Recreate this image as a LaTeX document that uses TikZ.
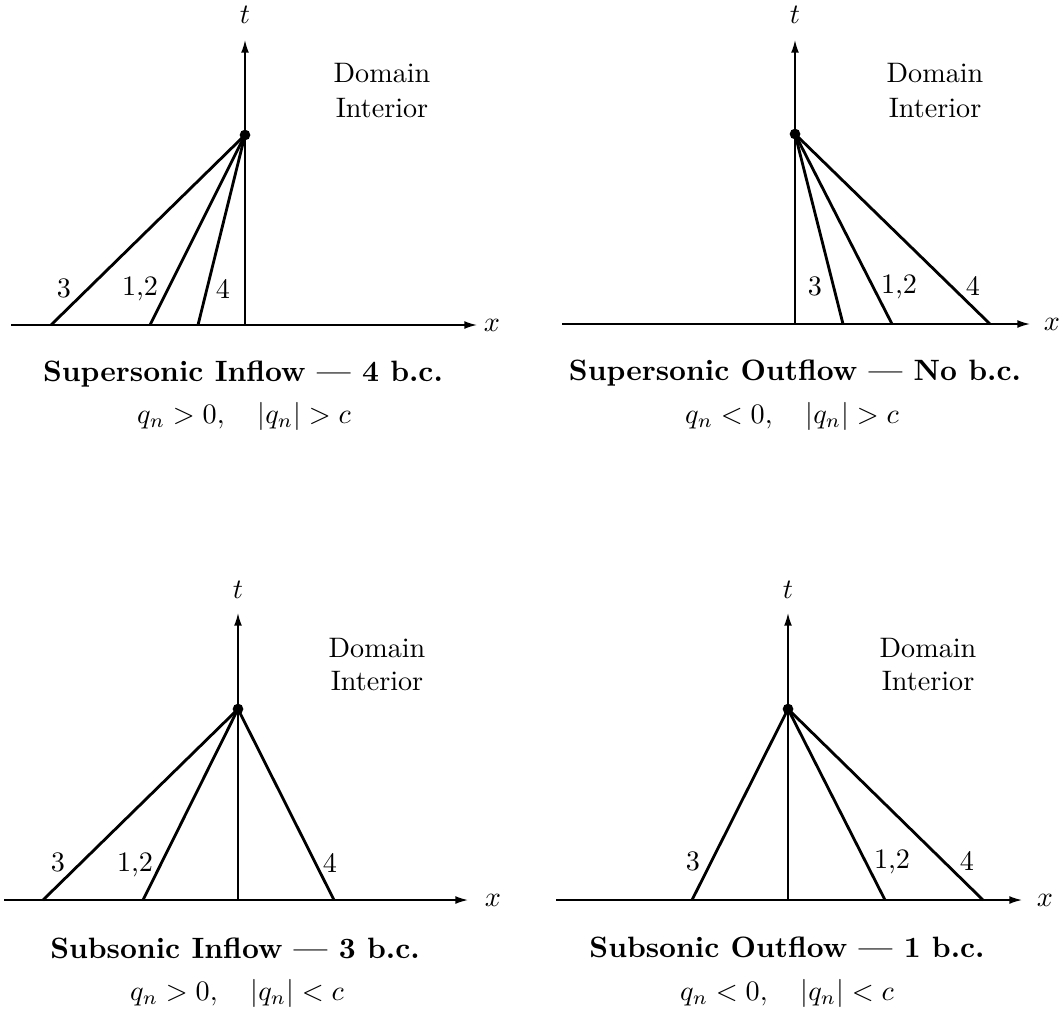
\documentclass[tikz,border=0pt]{standalone}
\usetikzlibrary{arrows.meta}
\begin{document}
\begin{tikzpicture}[x=0.355pt,y=-0.355pt,
  axisline/.style={line width=0.55pt,-{Latex[length=4.5pt,width=2.8pt]}},
  charline/.style={line width=1pt},
  pdot/.style={circle,fill=black,inner sep=0pt,minimum size=3.8pt},
  txt/.style={inner sep=0pt,anchor=base},
  ttl/.style={inner sep=0pt,anchor=base,font=\fontsize{10.45}{12}\selectfont\bfseries}]
\useasboundingbox (0,0) rectangle (1064,1013);

% ---------- Supersonic inflow ----------
\coordinate (A-l) at (11,325);   \coordinate (A-r) at (477,325);
\coordinate (A-o) at (245,325);  \coordinate (A-top) at (245,40);
\node[pdot] (A-p) at (245,135) {};
\coordinate (A-3) at (51,325); \coordinate (A-12) at (150,325); \coordinate (A-4) at (198,325);
\draw[axisline] (A-l) -- (A-r);
\draw[axisline] (A-o) -- (A-top);
\draw[charline] (A-p.center) -- (A-3);
\draw[charline] (A-p.center) -- (A-12);
\draw[charline] (A-p.center) -- (A-4);
\node[txt] (A-t) at (245,23) {$t$};
\node[txt] (A-x) at (492,331) {$x$};
\node[txt] (A-n3) at (64,297) {3};
\node[txt] (A-n12) at (140,295) {1,2};
\node[txt] (A-n4) at (223,298) {4};
\node[txt] (A-d1) at (382,82) {Domain};
\node[txt] (A-d2) at (382,117) {Interior};
\node[ttl] (A-ti) at (243,381) {Supersonic Inflow --- 4 b.c.};
\node[txt] (A-m) at (244,423) {$q_n>0,\quad |q_n|>c$};

% ---------- Supersonic outflow ----------
\coordinate (B-l) at (562,324);  \coordinate (B-r) at (1030,324);
\coordinate (B-o) at (795,324);  \coordinate (B-top) at (795,40);
\node[pdot] (B-p) at (795,134) {};
\coordinate (B-3) at (843,324); \coordinate (B-12) at (892,324); \coordinate (B-4) at (990,324);
\draw[axisline] (B-l) -- (B-r);
\draw[axisline] (B-o) -- (B-top);
\draw[charline] (B-p.center) -- (B-3);
\draw[charline] (B-p.center) -- (B-12);
\draw[charline] (B-p.center) -- (B-4);
\node[txt] (B-t) at (795,23) {$t$};
\node[txt] (B-x) at (1052,330) {$x$};
\node[txt] (B-n3) at (815,295) {3};
\node[txt] (B-n12) at (899,293) {1,2};
\node[txt] (B-n4) at (973,295) {4};
\node[txt] (B-d1) at (935,82) {Domain};
\node[txt] (B-d2) at (935,117) {Interior};
\node[ttl] (B-ti) at (795,380) {Supersonic Outflow --- No b.c.};
\node[txt] (B-m) at (792,423) {$q_n<0,\quad |q_n|>c$};

% ---------- Subsonic inflow ----------
\coordinate (C-l) at (4,900);    \coordinate (C-r) at (468,900);
\coordinate (C-o) at (238,900);  \coordinate (C-top) at (238,613);
\node[pdot] (C-p) at (238,709) {};
\coordinate (C-3) at (43,900); \coordinate (C-12) at (143,900); \coordinate (C-4) at (334,900);
\draw[axisline] (C-l) -- (C-r);
\draw[axisline] (C-o) -- (C-top);
\draw[charline] (C-p.center) -- (C-3);
\draw[charline] (C-p.center) -- (C-12);
\draw[charline] (C-p.center) -- (C-4);
\node[txt] (C-t) at (238,598) {$t$};
\node[txt] (C-x) at (493,906) {$x$};
\node[txt] (C-n3) at (58,871) {3};
\node[txt] (C-n12) at (135,871) {1,2};
\node[txt] (C-n4) at (330,872) {4};
\node[txt] (C-d1) at (377,657) {Domain};
\node[txt] (C-d2) at (377,690) {Interior};
\node[ttl] (C-ti) at (235,958) {Subsonic Inflow --- 3 b.c.};
\node[txt] (C-m) at (237,1000) {$q_n>0,\quad |q_n|<c$};

% ---------- Subsonic outflow ----------
\coordinate (D-l) at (556,900);  \coordinate (D-r) at (1022,900);
\coordinate (D-o) at (788,900);  \coordinate (D-top) at (788,613);
\node[pdot] (D-p) at (788,709) {};
\coordinate (D-3) at (692,900); \coordinate (D-12) at (885,900); \coordinate (D-4) at (983,900);
\draw[axisline] (D-l) -- (D-r);
\draw[axisline] (D-o) -- (D-top);
\draw[charline] (D-p.center) -- (D-3);
\draw[charline] (D-p.center) -- (D-12);
\draw[charline] (D-p.center) -- (D-4);
\node[txt] (D-t) at (788,598) {$t$};
\node[txt] (D-x) at (1045,906) {$x$};
\node[txt] (D-n3) at (693,870) {3};
\node[txt] (D-n12) at (892,868) {1,2};
\node[txt] (D-n4) at (967,870) {4};
\node[txt] (D-d1) at (928,657) {Domain};
\node[txt] (D-d2) at (928,690) {Interior};
\node[ttl] (D-ti) at (787,957) {Subsonic Outflow --- 1 b.c.};
\node[txt] (D-m) at (787,1000) {$q_n<0,\quad |q_n|<c$};
\end{tikzpicture}
\end{document}
